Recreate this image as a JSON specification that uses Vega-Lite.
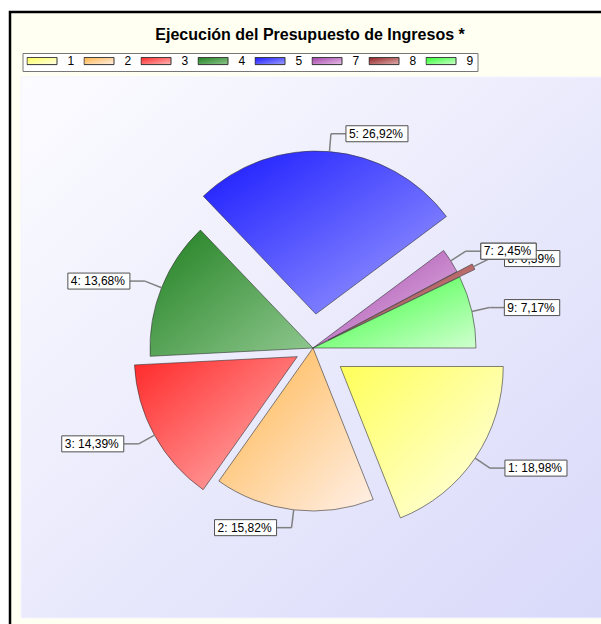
{
  "$schema": "https://vega.github.io/schema/vega-lite/v6.json",
  "width": 600,
  "height": 620,
  "padding": {"left": 10, "top": 12, "right": 0, "bottom": 0},
  "background": "white",
  "config": {
    "view": {"fill": "#FFFFF2", "stroke": "#000000", "strokeWidth": 2.5},
    "font": "Liberation Sans"
  },
  "title": {
    "text": "Ejecución del Presupuesto de Ingresos *",
    "font": "Liberation Sans",
    "fontSize": 16,
    "fontWeight": "bold",
    "color": "#000000",
    "anchor": "middle",
    "frame": "group",
    "baseline": "alphabetic",
    "offset": -44
  },
  "data": {
    "values": [
      {"cat": "1", "value": 18.98},
      {"cat": "2", "value": 15.82},
      {"cat": "3", "value": 14.39},
      {"cat": "4", "value": 13.68},
      {"cat": "5", "value": 26.92},
      {"cat": "7", "value": 2.45},
      {"cat": "8", "value": 0.59},
      {"cat": "9", "value": 7.17}
    ]
  },
  "transform": [
    {"stack": "value", "groupby": [], "sort": [{"field": "cat", "order": "ascending"}], "as": ["v0", "v1"]},
    {"calculate": "PI/2 + PI*(datum.v0+datum.v1)/100", "as": "mid"},
    {"calculate": "datum.cat==='1'?0.202:datum.cat==='3'?0.11:datum.cat==='5'?0.209:datum.cat==='8'?0.104:0", "as": "ex"},
    {"calculate": "datum.ex*sin(datum.mid)", "as": "cx"},
    {"calculate": "datum.ex*cos(datum.mid)", "as": "cy"},
    {"calculate": "datum.cx+sin(datum.mid)", "as": "ax"},
    {"calculate": "datum.cy+cos(datum.mid)", "as": "ay"},
    {"calculate": "datum.cx+1.11*sin(datum.mid)", "as": "bx"},
    {"calculate": "datum.cy+1.11*cos(datum.mid)", "as": "by"},
    {"calculate": "sin(datum.mid)>=0?1:-1", "as": "side"},
    {"calculate": "datum.bx+datum.side*15/163", "as": "lx"},
    {"calculate": "datum.cat+': '+replace(format(datum.value,'.2f'),'.',',')+'%'", "as": "label"},
    {"calculate": "(6.67*length(datum.label)+2)/163", "as": "bw"},
    {"calculate": "datum.side>0?datum.lx:datum.lx-datum.bw", "as": "x0"},
    {"calculate": "datum.x0+datum.bw", "as": "x1"},
    {"calculate": "datum.by+8/163", "as": "y0"},
    {"calculate": "datum.by-8/163", "as": "y1"}
  ],
  "layer": [
    {
      "data": {"values": [{}]},
      "mark": {
        "type": "rect",
        "fill": {"gradient": "linear", "x1": 0, "y1": 0, "x2": 1, "y2": 1,
          "stops": [{"offset": 0, "color": "#FCFCFF"}, {"offset": 1, "color": "#D8D8FA"}]},
        "stroke": "#F4F4FF",
        "strokeWidth": 1
      },
      "encoding": {
        "x": {"datum": -1.7914, "type": "quantitative", "scale": {"domain": [-1.8589, 1.8221], "nice": false, "zero": false}, "axis": null},
        "x2": {"datum": 1.9},
        "y": {"datum": 1.6626, "type": "quantitative", "scale": {"domain": [-1.7423, 2.0613], "nice": false, "zero": false}, "axis": null},
        "y2": {"datum": -1.6564}
      }
    },
    {
      "mark": {"type": "arc", "outerRadius": 163, "stroke": "#333333", "strokeWidth": 0.6},
      "encoding": {
        "x": {"field": "cx", "type": "quantitative", "scale": {"domain": [-1.8589, 1.8221], "nice": false, "zero": false}, "axis": null},
        "y": {"field": "cy", "type": "quantitative", "scale": {"domain": [-1.7423, 2.0613], "nice": false, "zero": false}, "axis": null},
        "theta": {"field": "v0", "type": "quantitative", "scale": {"domain": [0, 100], "range": [1.5708, 7.854]}},
        "theta2": {"field": "v1"},
        "color": {
          "field": "cat",
          "type": "nominal",
          "scale": {
            "domain": ["1", "2", "3", "4", "5", "7", "8", "9"],
            "range": [
              {"expr": "{gradient:'linear',x1:0,y1:0,x2:1,y2:1,stops:[{offset:0,color:'#ffff5a'},{offset:1,color:'#ffffea'}]}"},
              {"expr": "{gradient:'linear',x1:0,y1:0,x2:1,y2:1,stops:[{offset:0,color:'#ffb448'},{offset:1,color:'#fff0e8'}]}"},
              {"expr": "{gradient:'linear',x1:0,y1:0,x2:1,y2:1,stops:[{offset:0,color:'#ff2828'},{offset:1,color:'#ffb8b8'}]}"},
              {"expr": "{gradient:'linear',x1:0,y1:0,x2:1,y2:1,stops:[{offset:0,color:'#208020'},{offset:1,color:'#90c890'}]}"},
              {"expr": "{gradient:'linear',x1:0,y1:0,x2:1,y2:1,stops:[{offset:0,color:'#1818ff'},{offset:1,color:'#a0a0ff'}]}"},
              {"expr": "{gradient:'linear',x1:0,y1:0,x2:1,y2:1,stops:[{offset:0,color:'#a040a8'},{offset:1,color:'#e8c0e8'}]}"},
              {"expr": "{gradient:'linear',x1:0,y1:0,x2:1,y2:1,stops:[{offset:0,color:'#902020'},{offset:1,color:'#e0b0b0'}]}"},
              {"expr": "{gradient:'linear',x1:0,y1:0,x2:1,y2:1,stops:[{offset:0,color:'#30ff30'},{offset:1,color:'#d0ffd0'}]}"}
            ]
          },
          "legend": {
            "orient": "none",
            "legendX": 12.5,
            "legendY": 41,
            "direction": "horizontal",
            "title": null,
            "symbolType": "M-1,-0.24H1V0.24H-1Z",
            "symbolSize": 900,
            "symbolStrokeColor": "#333333",
            "symbolStrokeWidth": 1,
            "labelFontSize": 12,
            "labelFont": "Liberation Sans",
            "labelColor": "#000000",
            "labelOffset": 10,
            "columnPadding": 9,
            "padding": 4,
            "strokeColor": "#777777",
            "fillColor": "#FFFFFF",
            "clipHeight": 8
          }
        }
      }
    },
    {
      "mark": {"type": "rule", "color": "#808080", "strokeWidth": 1.5},
      "encoding": {
        "x": {"field": "ax", "type": "quantitative", "scale": {"domain": [-1.8589, 1.8221], "nice": false, "zero": false}, "axis": null},
        "y": {"field": "ay", "type": "quantitative", "scale": {"domain": [-1.7423, 2.0613], "nice": false, "zero": false}, "axis": null},
        "x2": {"field": "bx"},
        "y2": {"field": "by"}
      }
    },
    {
      "mark": {"type": "rule", "color": "#808080", "strokeWidth": 1.5},
      "encoding": {
        "x": {"field": "bx", "type": "quantitative", "scale": {"domain": [-1.8589, 1.8221], "nice": false, "zero": false}, "axis": null},
        "y": {"field": "by", "type": "quantitative", "scale": {"domain": [-1.7423, 2.0613], "nice": false, "zero": false}, "axis": null},
        "x2": {"field": "lx"},
        "y2": {"field": "by"}
      }
    },
    {
      "mark": {"type": "rect", "fill": "#FFFFFF", "stroke": "#505050", "strokeWidth": 1},
      "encoding": {
        "x": {"field": "x0", "type": "quantitative", "scale": {"domain": [-1.8589, 1.8221], "nice": false, "zero": false}, "axis": null},
        "x2": {"field": "x1"},
        "y": {"field": "y0", "type": "quantitative", "scale": {"domain": [-1.7423, 2.0613], "nice": false, "zero": false}, "axis": null},
        "y2": {"field": "y1"}
      }
    },
    {
      "mark": {"type": "text", "align": "left", "baseline": "middle", "dx": 3, "fontSize": 12, "font": "Liberation Sans", "color": "#000000"},
      "encoding": {
        "x": {"field": "x0", "type": "quantitative", "scale": {"domain": [-1.8589, 1.8221], "nice": false, "zero": false}, "axis": null},
        "y": {"field": "by", "type": "quantitative", "scale": {"domain": [-1.7423, 2.0613], "nice": false, "zero": false}, "axis": null},
        "text": {"field": "label"}
      }
    },
    {
      "transform": [{"filter": "datum.cat==='7'"}],
      "mark": {"type": "rect", "fill": "#FFFFFF", "stroke": "#505050", "strokeWidth": 1},
      "encoding": {
        "x": {"field": "x0", "type": "quantitative", "scale": {"domain": [-1.8589, 1.8221], "nice": false, "zero": false}, "axis": null},
        "x2": {"field": "x1"},
        "y": {"field": "y0", "type": "quantitative", "scale": {"domain": [-1.7423, 2.0613], "nice": false, "zero": false}, "axis": null},
        "y2": {"field": "y1"}
      }
    },
    {
      "transform": [{"filter": "datum.cat==='7'"}],
      "mark": {"type": "text", "align": "left", "baseline": "middle", "dx": 3, "fontSize": 12, "font": "Liberation Sans", "color": "#000000"},
      "encoding": {
        "x": {"field": "x0", "type": "quantitative", "scale": {"domain": [-1.8589, 1.8221], "nice": false, "zero": false}, "axis": null},
        "y": {"field": "by", "type": "quantitative", "scale": {"domain": [-1.7423, 2.0613], "nice": false, "zero": false}, "axis": null},
        "text": {"field": "label"}
      }
    }
  ]
}
